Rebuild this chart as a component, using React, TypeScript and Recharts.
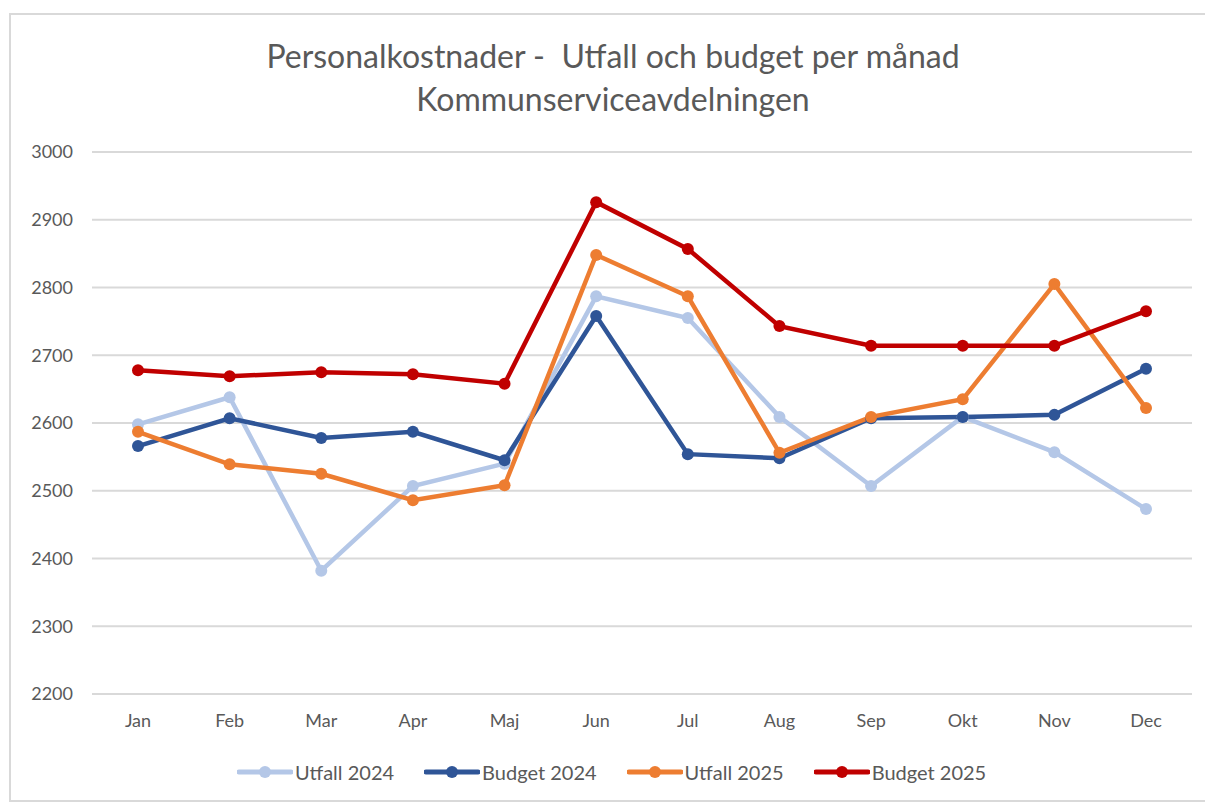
import React from 'react'
import { LineChart, Line, XAxis, YAxis, CartesianGrid } from 'recharts'

const MONTHS = ['Jan', 'Feb', 'Mar', 'Apr', 'Maj', 'Jun', 'Jul', 'Aug', 'Sep', 'Okt', 'Nov', 'Dec']
const UTFALL_2024 = [2598, 2638, 2382, 2507, 2540, 2787, 2755, 2609, 2507, 2609, 2557, 2473]
const BUDGET_2024 = [2566, 2607, 2578, 2587, 2545, 2758, 2554, 2548, 2607, 2609, 2612, 2680]
const UTFALL_2025 = [2587, 2539, 2525, 2486, 2508, 2848, 2787, 2556, 2609, 2635, 2805, 2622]
const BUDGET_2025 = [2678, 2669, 2675, 2672, 2658, 2926, 2857, 2743, 2714, 2714, 2714, 2765]
const Y_TICKS = [2200, 2300, 2400, 2500, 2600, 2700, 2800, 2900, 3000]

const SERIES = [
  { key: 'u24', name: 'Utfall 2024', color: '#B4C7E7' },
  { key: 'b24', name: 'Budget 2024', color: '#2F5597' },
  { key: 'u25', name: 'Utfall 2025', color: '#ED7D31' },
  { key: 'b25', name: 'Budget 2025', color: '#C00000' },
]

const data = MONTHS.map((m, i) => ({
  month: m,
  u24: UTFALL_2024[i],
  b24: BUDGET_2024[i],
  u25: UTFALL_2025[i],
  b25: BUDGET_2025[i],
}))

const FONT = 'Lato, "Open Sans", sans-serif'
const TEXT = '#595959'

export default function App() {
  return (
    <div style={{ position: 'absolute', left: 0, top: 0, width: 1205, height: 803, background: '#fff', fontFamily: FONT, overflow: 'hidden' }}>
      {/* chart frame */}
      <div style={{ position: 'absolute', left: 9, top: 13, width: 1210, height: 785, border: '2px solid #D9D9D9' }} />

      <div style={{ position: 'absolute', left: 0, width: 1226, top: 34, textAlign: 'center', color: TEXT, fontSize: 32, lineHeight: '43px' }}>
        <div style={{ whiteSpace: 'pre' }}>Personalkostnader -  Utfall och budget per månad</div>
        <div>Kommunserviceavdelningen</div>
      </div>

      <div style={{ position: 'absolute', left: 0, top: 0 }}>
        <LineChart width={1205} height={803} data={data} margin={{ top: 152, right: 13, bottom: 79, left: 0 }}>
          <CartesianGrid vertical={false} stroke="#D9D9D9" strokeWidth={2} />
          <XAxis dataKey="month" axisLine={false} tickLine={false} tickSize={0} tickMargin={20} height={30}
            padding={{ left: 46, right: 46 }}
            tick={{ fill: TEXT, fontSize: 18, fontFamily: FONT }} interval={0} />
          <YAxis domain={[2200, 3000]} ticks={Y_TICKS} width={92} axisLine={false} tickLine={false}
            tickSize={0} tickMargin={19} tick={{ fill: TEXT, fontSize: 18, fontFamily: FONT }} />
          {SERIES.map(s => (
            <Line key={s.key} dataKey={s.key} name={s.name} stroke={s.color} strokeWidth={4.5}
              dot={{ r: 6, fill: s.color, stroke: s.color, strokeWidth: 0 }} activeDot={false}
              isAnimationActive={false} />
          ))}
        </LineChart>
      </div>

      {/* legend */}
      <div style={{ position: 'absolute', top: 760, left: 237, display: 'flex', alignItems: 'center', gap: 30, color: TEXT, fontSize: 20 }}>
        {SERIES.map(s => (
          <div key={s.key} style={{ display: 'flex', alignItems: 'center' }}>
            <svg width={56} height={20}>
              <line x1={2} y1={10} x2={54} y2={10} stroke={s.color} strokeWidth={5} strokeLinecap="round" />
              <circle cx={28} cy={10} r={6} fill={s.color} />
            </svg>
            <span style={{ marginLeft: 2 }}>{s.name}</span>
          </div>
        ))}
      </div>
    </div>
  )
}
